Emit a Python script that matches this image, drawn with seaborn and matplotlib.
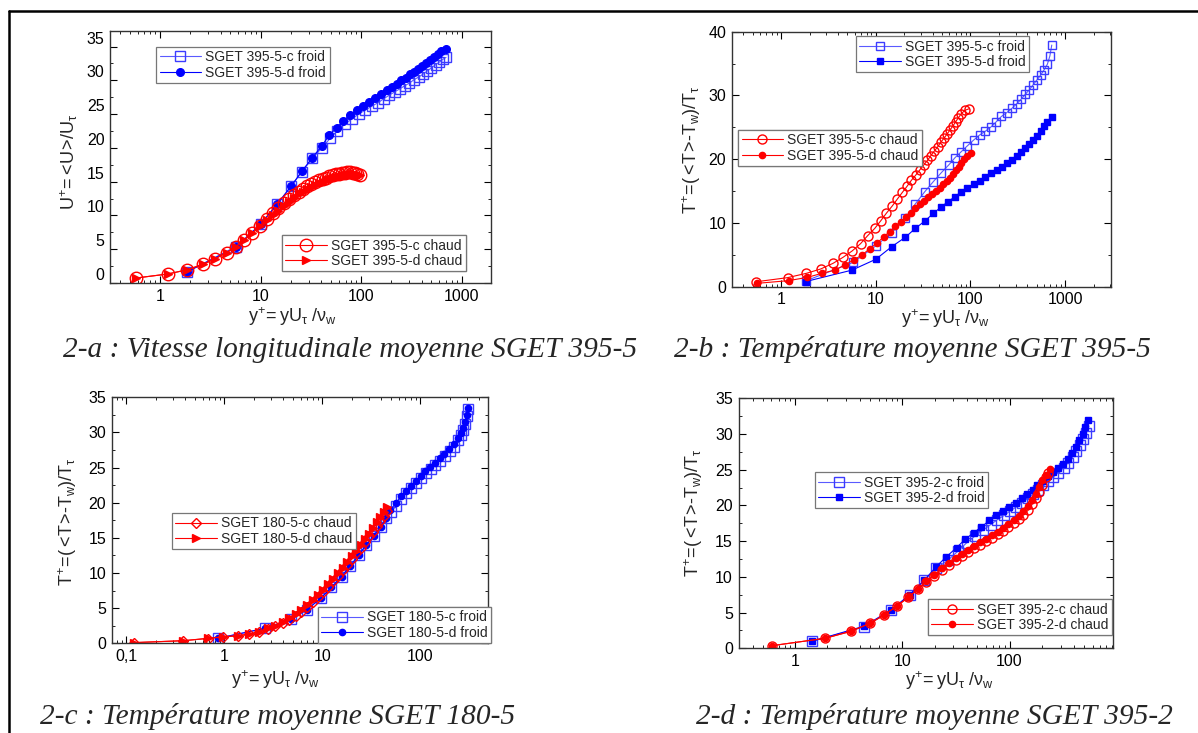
import matplotlib
matplotlib.use('Agg')
import matplotlib.pyplot as plt
from matplotlib.lines import Line2D
from matplotlib import transforms
from matplotlib.ticker import LogLocator, NullFormatter, MultipleLocator
import seaborn as sns

# ---------------- data ----------------
# 2-a : mean streamwise velocity, SGET 395-5
a_c_froid_x = [1.84, 5.7, 10.0, 14.7, 20.3, 25.9, 32.8, 40.6, 49.2, 58.1, 68.8, 81.3, 94.8, 110, 129, 148, 169,
               191, 216, 244, 272, 303, 337, 375, 417, 457, 501, 550, 600, 650, 700]
a_c_froid_y = [1.62, 5.4, 8.7, 11.7, 14.4, 16.5, 18.45, 20.0, 21.4, 22.5, 23.5, 24.3, 25.0, 25.6, 26.2, 26.7, 27.3,
               27.8, 28.3, 28.75, 29.2, 29.6, 30.1, 30.5, 30.95, 31.4, 31.85, 32.3, 32.7, 33.1, 33.4]
a_d_froid_x = [1.84, 5.7, 10.0, 14.7, 20.3, 25.9, 32.8, 40.6, 48.4, 57.3, 66.7, 77.6, 90.6, 105, 121, 139, 159,
               180, 203, 226, 252, 280, 307, 337, 369, 404, 443, 486, 533, 580, 630, 700]
a_d_froid_y = [1.62, 5.26, 8.7, 11.7, 14.4, 16.6, 18.55, 20.3, 21.9, 23.0, 24.0, 24.9, 25.55, 26.2, 26.8, 27.4, 28.0,
               28.5, 29.0, 29.5, 30.0, 30.4, 30.9, 31.25, 31.65, 32.1, 32.5, 33.0, 33.5, 33.9, 34.3, 34.6]
a_chaud_x = [0.58, 1.19, 1.87, 2.70, 3.55, 4.6, 5.7, 6.9, 8.3, 9.9, 11.5, 13.2, 15.0, 17.1, 19.4, 21.5, 24.0, 26.7,
             29.2, 32.0, 35.0, 38.5, 41.6, 44.9, 48.4, 52.0, 56.0, 60.8, 64.6, 68.8, 73.0, 77.6, 82.6, 87.1, 91.9, 97.7]
a_c_chaud_y = [0.74, 1.33, 1.96, 2.8, 3.6, 4.5, 5.4, 6.4, 7.4, 8.5, 9.45, 10.3, 11.1, 11.8, 12.45, 13.0, 13.5, 13.9,
               14.3, 14.6, 14.9, 15.2, 15.4, 15.6, 15.8, 15.96, 16.1, 16.2, 16.3, 16.35, 16.4, 16.4, 16.3, 16.25, 16.15, 16.05]
a_d_chaud_y = [0.74, 1.33, 1.96, 2.8, 3.6, 4.5, 5.4, 6.4, 7.4, 8.4, 9.3, 10.0, 10.7, 11.4, 12.0, 12.6, 13.1, 13.5,
               13.9, 14.2, 14.5, 14.8, 15.0, 15.2, 15.4, 15.6, 15.7, 15.85, 15.95, 16.05, 16.1, 16.15, 16.15, 16.1, 16.05, 16.0]

# 2-b : mean temperature, SGET 395-5
b_c_froid_x = [1.81, 5.76, 10.0, 14.8, 20.4, 26.2, 32.9, 40.6, 49.3, 59, 68.8, 80.2, 92.8, 108, 125, 144, 166, 188,
               212, 241, 275, 308, 345, 380, 419, 458, 501, 552, 598, 649, 690, 722]
b_c_froid_y = [0.9, 3.8, 6.4, 8.5, 10.7, 13.0, 14.9, 16.5, 17.9, 19.1, 20.25, 21.2, 22.1, 23.0, 23.8, 24.4, 25.1, 25.9,
               26.7, 27.3, 28.0, 28.7, 29.45, 30.2, 30.9, 31.65, 32.4, 33.2, 34.0, 34.9, 36.2, 37.9]
b_d_froid_x = [1.81, 5.6, 10.0, 14.8, 20.5, 26.2, 32.9, 40.6, 49.3, 58, 68.2, 80.2, 92.8, 108, 125, 144, 166, 190,
               216, 245, 275, 308, 345, 380, 419, 458, 501, 552, 598, 649, 725]
b_d_froid_y = [0.8, 2.6, 4.3, 6.3, 7.75, 9.15, 10.3, 11.5, 12.55, 13.35, 14.1, 14.9, 15.55, 16.1, 16.6, 17.2, 17.8, 18.3,
               18.8, 19.35, 19.9, 20.5, 21.1, 21.7, 22.4, 23.0, 23.7, 24.4, 25.2, 25.9, 26.6]
b_c_chaud_x = [0.548, 1.17, 1.85, 2.62, 3.54, 4.5, 5.62, 6.9, 8.2, 9.76, 11.3, 12.9, 14.9, 16.9, 19.1, 21.4, 23.8,
               26.4, 29.1, 32.1, 35.1, 38.1, 41.6, 45.1, 48.5, 52.6, 56.6, 60.9, 65.5, 70.0, 74.5, 80.2, 87.0, 96.0]
b_c_chaud_y = [0.78, 1.42, 2.1, 2.78, 3.67, 4.6, 5.6, 6.75, 8.0, 9.15, 10.35, 11.5, 12.65, 13.75, 14.8, 15.75, 16.7,
               17.5, 18.3, 19.1, 19.8, 20.55, 21.3, 21.95, 22.65, 23.3, 23.95, 24.6, 25.25, 25.9, 26.5, 27.15, 27.65, 27.9]
b_d_chaud_x = [0.56, 1.2, 1.9, 2.7, 3.69, 4.7, 5.85, 7.2, 8.6, 10.3, 12.1, 14.0, 16.1, 18.4, 20.9, 23.4, 26.2, 29.4,
               32.4, 35.7, 39.3, 43.3, 47.4, 51.8, 56.2, 60.9, 65.5, 70.5, 75.2, 80.2, 85.6, 91.4, 100.7]
b_d_chaud_y = [0.53, 0.95, 1.47, 2.1, 2.6, 3.4, 4.2, 5.0, 5.95, 6.85, 7.8, 8.65, 9.5, 10.2, 10.95, 11.6, 12.3, 12.9,
               13.5, 14.0, 14.5, 15.0, 15.5, 16.05, 16.6, 17.1, 17.7, 18.25, 18.8, 19.45, 20.0, 20.55, 20.9]

# 2-c : mean temperature, SGET 180-5
c_c_froid_x = [0.86, 2.6, 4.75, 7.0, 9.6, 12.4, 15.7, 19.3, 23.5, 28.1, 33.4, 39.3, 44.9, 50.5, 57, 64, 72, 81, 91,
               102, 113, 127, 142, 159, 177, 199, 222, 245, 260, 273, 285, 298, 308]
c_c_froid_y = [0.71, 2.13, 3.4, 4.8, 6.4, 7.95, 9.5, 11.0, 12.55, 14.0, 15.3, 16.6, 17.8, 18.7, 19.6, 20.6, 21.4, 22.1,
               22.8, 23.5, 24.25, 24.8, 25.4, 26.0, 26.7, 27.3, 28.0, 28.9, 29.6, 30.4, 31.2, 32.3, 33.3]
c_d_froid_x = [0.86, 2.6, 4.75, 7.0, 9.6, 12.4, 15.7, 19.3, 23.5, 28.1, 33.4, 39.3, 44.9, 49.2, 56.3, 63.2, 71.6, 80.5,
               90.6, 101, 112, 126, 141, 158, 176, 198, 221, 244, 259, 272, 284, 297, 307]
c_d_froid_y = [0.71, 2.13, 3.4, 4.8, 6.4, 7.95, 9.5, 11.0, 12.55, 14.0, 15.3, 16.6, 17.8, 19.0, 19.9, 20.9, 21.7, 22.4,
               23.1, 23.8, 24.55, 25.1, 25.7, 26.3, 27.0, 27.6, 28.3, 29.15, 29.9, 30.7, 31.5, 32.55, 33.5]
c_chaud_x = [0.121, 0.383, 0.674, 0.98, 1.37, 1.79, 2.27, 2.77, 3.3, 3.96, 4.62, 5.33, 6.1, 6.99, 7.98, 9.06, 10.2,
             11.5, 12.9, 14.5, 16.1, 18.0, 20.0, 22.3, 24.6, 27.2, 30.0, 32.8, 35.9, 38.9, 42.1, 45.7]
c_c_chaud_y = [0.1, 0.37, 0.68, 0.9, 1.05, 1.28, 1.6, 2.05, 2.4, 2.85, 3.35, 3.9, 4.5, 5.2, 5.9, 6.6, 7.3, 8.05, 8.8,
               9.6, 10.4, 11.2, 12.0, 12.8, 13.6, 14.4, 15.2, 15.9, 16.7, 17.4, 18.1, 18.8]
c_d_chaud_y = [0.1, 0.37, 0.71, 0.95, 1.09, 1.33, 1.66, 2.13, 2.5, 3.0, 3.55, 4.1, 4.75, 5.45, 6.17, 6.88, 7.6, 8.4,
               9.15, 9.95, 10.75, 11.6, 12.4, 13.2, 14.0, 14.8, 15.6, 16.4, 17.2, 17.95, 18.7, 19.4]

# 2-d : mean temperature, SGET 395-2
d_c_froid_x = [1.45, 4.4, 7.9, 11.7, 16.0, 20.6, 26.5, 33, 40, 47.5, 56, 66.5, 77, 89, 101, 116, 132, 148, 166, 185,
               207, 230, 256, 285, 319, 352, 388, 421, 453, 484, 515, 551]
d_c_froid_y = [1.0, 3.0, 5.3, 7.5, 9.5, 11.2, 12.3, 13.6, 14.8, 15.7, 16.5, 17.3, 18.0, 18.6, 19.2, 19.8, 20.4, 21.0,
               21.6, 22.2, 22.8, 23.4, 24.0, 24.6, 25.3, 26.0, 26.8, 27.6, 28.5, 29.3, 30.2, 31.1]
d_d_froid_x = [1.45, 4.4, 7.9, 11.7, 16.0, 20.6, 25.7, 32.1, 38.8, 46.5, 54.7, 65, 75.5, 87.6, 99.8, 114, 130, 146,
               164, 182, 204, 227, 252, 281, 315, 348, 384, 417, 449, 480, 508, 539]
d_d_froid_y = [1.0, 3.1, 5.4, 7.5, 9.5, 11.4, 12.8, 14.1, 15.3, 16.2, 17.0, 17.9, 18.6, 19.2, 19.8, 20.4, 21.0, 21.6,
               22.2, 22.8, 23.4, 24.1, 24.7, 25.2, 25.8, 26.5, 27.3, 28.2, 29.1, 30.0, 30.95, 31.9]
d_c_chaud_x = [0.61, 1.9, 3.31, 4.99, 6.78, 8.97, 11.4, 14.0, 16.7, 19.9, 23.6, 27.2, 31.4, 36.2, 41.2, 46.9, 53.3,
               60.7, 69.1, 77.4, 86.9, 97.3, 109, 122, 135, 150, 163, 175, 188, 202, 217, 230]
d_c_chaud_y = [0.37, 1.4, 2.38, 3.5, 4.67, 5.97, 7.14, 8.26, 9.29, 10.17, 10.97, 11.67, 12.37, 12.93, 13.49, 14.05,
               14.51, 15.03, 15.49, 15.97, 16.43, 16.95, 17.5, 18.07, 18.67, 19.37, 20.2, 21.0, 21.95, 22.87, 23.95, 24.6]
d_d_chaud_x = [0.61, 1.9, 3.31, 4.99, 6.78, 8.97, 11.4, 14.0, 16.7, 19.9, 23.6, 27.2, 31.4, 36.2, 41.2, 46.9, 53.3,
               60.7, 69.1, 77.4, 86.9, 97.3, 109, 122, 135, 150, 163, 175, 188, 202, 217, 237]
d_d_chaud_y = [0.37, 1.4, 2.38, 3.5, 4.67, 5.97, 7.14, 8.3, 9.4, 10.3, 11.2, 11.9, 12.6, 13.2, 13.8, 14.35, 14.85,
               15.35, 15.85, 16.35, 16.85, 17.4, 17.95, 18.55, 19.2, 19.9, 20.7, 21.6, 22.6, 23.5, 24.3, 25.1]

# ticks / texts
xt_395 = [1, 10, 100, 1000]
xtl_395 = ['1', '10', '100', '1000']
xt_180 = [0.1, 1, 10, 100]
xtl_180 = ['0,1', '1', '10', '100']
xt_3952 = [1, 10, 100]
xtl_3952 = ['1', '10', '100']
yt_35 = [0, 5, 10, 15, 20, 25, 30, 35]
yt_40 = [0, 10, 20, 30, 40]

xlab = r'$\mathregular{y^{+}\!=yU_{\tau}\ /\nu_{w}}$'
ylab_u = r'$\mathregular{U^{+}\!=\!<\!U\!>\!/U_{\tau}}$'
ylab_t = r'$\mathregular{T^{+}\!=\!(<\!T\!>\!\text{-}T_{w})/T_{\tau}}$'

captions = ['2-a : Vitesse longitudinale moyenne SGET 395-5',
            '2-b : Température moyenne SGET 395-5',
            '2-c : Température moyenne SGET 180-5',
            '2-d : Température moyenne SGET 395-2']

# ---------------- style ----------------
sns.set_style('ticks')
plt.rcParams['font.family'] = ['Liberation Sans', 'DejaVu Sans']
plt.rcParams['mathtext.fontset'] = 'custom'
plt.rcParams['mathtext.rm'] = 'Liberation Sans'
plt.rcParams['mathtext.it'] = 'Liberation Sans:italic'
plt.rcParams['mathtext.bf'] = 'Liberation Sans:bold'

BLUE = '#0000ff'
LBLUE = '#3c3cff'
RED = '#ff0000'

W, H = 1198, 733
fig = plt.figure(figsize=(W / 100, H / 100), dpi=100)


def px_axes(l, t, r, b):
    return fig.add_axes([l / W, 1 - b / H, (r - l) / W, (b - t) / H])


def curve(ax, x, y, marker, color, size, filled, lcolor=None):
    sns.lineplot(x=x, y=y, ax=ax, sort=False, estimator=None, color=lcolor or color, linewidth=0.8,
                 marker=marker, markersize=size, markeredgecolor=color, markeredgewidth=1.0,
                 markerfacecolor=color if filled else 'none')
    return ax.get_lines()[-1]


def frame(ax, xlim, ylim, xt, xtl, yt, yminor):
    ax.set_xscale('log')
    ax.set_xlim(*xlim)
    ax.set_ylim(*ylim)
    ax.set_xticks(xt, labels=xtl)
    ax.xaxis.set_minor_locator(LogLocator(base=10, subs=range(2, 10), numticks=20))
    ax.xaxis.set_minor_formatter(NullFormatter())
    ax.set_yticks(yt)
    ax.yaxis.set_minor_locator(MultipleLocator(yminor))
    ax.tick_params(which='both', direction='in', top=True, right=True, labelsize=11.5, colors='black')
    ax.tick_params(which='major', length=5, width=0.8, pad=4)
    ax.tick_params(which='minor', length=2.5, width=0.6)
    for s in ax.spines.values():
        s.set_color('#333333')
        s.set_linewidth(1.0)
    ax.set_xlabel('')
    ax.set_ylabel('')


def legend(ax, handles, labels, x, y):
    lg = ax.legend(handles, labels, loc='upper left', bbox_to_anchor=(x, y), borderaxespad=0,
                   fancybox=False, framealpha=1, edgecolor='#777777', fontsize=10,
                   handlelength=3.0, handletextpad=0.3, borderpad=0.25, labelspacing=0.1)
    lg.get_frame().set_linewidth(0.9)
    ax.add_artist(lg)
    return lg


def labels(ax, ylabel, ylx, yly, xlx, xly):
    ax.set_ylabel(ylabel, fontsize=13)
    ax.yaxis.set_label_coords(ylx, yly)
    ax.set_xlabel(xlab, fontsize=13)
    ax.xaxis.set_label_coords(xlx, xly)


# ---------------- 2-a ----------------
ax = px_axes(110, 31, 491, 283)
h1 = curve(ax, a_c_froid_x, a_c_froid_y, 's', LBLUE, 7.5, False, '#5a5aff')
h2 = curve(ax, a_d_froid_x, a_d_froid_y, 'o', BLUE, 5.5, True)
h3 = curve(ax, a_chaud_x, a_c_chaud_y, 'o', RED, 9, False)
h4 = curve(ax, a_chaud_x, a_d_chaud_y, '>', RED, 6, True)
frame(ax, (0.318, 1960), (0, 37.3), xt_395, xtl_395, yt_35, 2.5)
# tick labels sit a little above their ticks in the original
for t in ax.get_yticklabels():
    t.set_transform(t.get_transform() + transforms.ScaledTranslation(0, 9 / 100, fig.dpi_scale_trans))
labels(ax, ylab_u, -0.079, 0.48, 0.478, -0.088)
legend(ax, [h1, h2], ['SGET 395-5-c froid', 'SGET 395-5-d froid'], 0.121, 0.937)
legend(ax, [h3, h4], ['SGET 395-5-c chaud', 'SGET 395-5-d chaud'], 0.451, 0.19)

# ---------------- 2-b ----------------
ax = px_axes(731.6, 31.7, 1111, 286.7)
h1 = curve(ax, b_c_froid_x, b_c_froid_y, 's', LBLUE, 6.2, False, '#5a5aff')
h2 = curve(ax, b_d_froid_x, b_d_froid_y, 's', BLUE, 4.2, True)
h3 = curve(ax, b_c_chaud_x, b_c_chaud_y, 'o', RED, 6.5, False)
h4 = curve(ax, b_d_chaud_x, b_d_chaud_y, 'o', RED, 4.5, True)
frame(ax, (0.30, 3050), (0, 40), xt_395, xtl_395, yt_40, 5)
labels(ax, ylab_t, -0.075, 0.536, 0.565, -0.082)
legend(ax, [h1, h2], ['SGET 395-5-c froid', 'SGET 395-5-d froid'], 0.327, 0.983)
legend(ax, [h3, h4], ['SGET 395-5-c chaud', 'SGET 395-5-d chaud'], 0.017, 0.615)

# ---------------- 2-c ----------------
ax = px_axes(111.7, 397.3, 488, 643.3)
h1 = curve(ax, c_c_froid_x, c_c_froid_y, 's', LBLUE, 7.2, False, '#5a5aff')
h2 = curve(ax, c_d_froid_x, c_d_froid_y, 'o', BLUE, 4.5, True)
h3 = curve(ax, c_chaud_x, c_c_chaud_y, 'D', RED, 5.5, False)
h4 = curve(ax, c_chaud_x, c_d_chaud_y, '>', RED, 5.5, True)
frame(ax, (0.071, 490), (0, 35), xt_180, xtl_180, yt_35, 2.5)
labels(ax, ylab_t, -0.088, 0.493, 0.435, -0.10)
legend(ax, [h3, h4], ['SGET 180-5-c chaud', 'SGET 180-5-d chaud'], 0.160, 0.530)
legend(ax, [h1, h2], ['SGET 180-5-c froid', 'SGET 180-5-d froid'], 0.548, 0.148)

# ---------------- 2-d ----------------
ax = px_axes(738.5, 398.3, 1112.8, 648.3)
h1 = curve(ax, d_c_froid_x, d_c_froid_y, 's', LBLUE, 6.5, False, '#5a5aff')
h2 = curve(ax, d_d_froid_x, d_d_froid_y, 's', BLUE, 4.5, True)
h3 = curve(ax, d_c_chaud_x, d_c_chaud_y, 'o', RED, 6.5, False)
h4 = curve(ax, d_d_chaud_x, d_d_chaud_y, 'o', RED, 4.5, True)
frame(ax, (0.296, 920), (0, 35), xt_3952, xtl_3952, yt_35, 2.5)
labels(ax, ylab_t, -0.089, 0.545, 0.565, -0.085)
legend(ax, [h1, h2], ['SGET 395-2-c froid', 'SGET 395-2-d froid'], 0.204, 0.705)
legend(ax, [h3, h4], ['SGET 395-2-c chaud', 'SGET 395-2-d chaud'], 0.506, 0.197)

# ---------------- captions and page frame ----------------
cap_pos = [(63, 350), (674, 350), (40, 717), (696, 717)]
for (cx, cy), txt in zip(cap_pos, captions):
    fig.text(cx / W, 1 - cy / H, txt, fontsize=21.2, fontstyle='italic', family='Liberation Serif',
             ha='left', va='center')

fig.add_artist(Line2D([9 / W, 1], [1 - 11 / H, 1 - 11 / H], transform=fig.transFigure, color='black', lw=1.8))
fig.add_artist(Line2D([9 / W, 9 / W], [0, 1 - 11 / H], transform=fig.transFigure, color='black', lw=1.8))

fig.savefig('out.png', dpi=100)
